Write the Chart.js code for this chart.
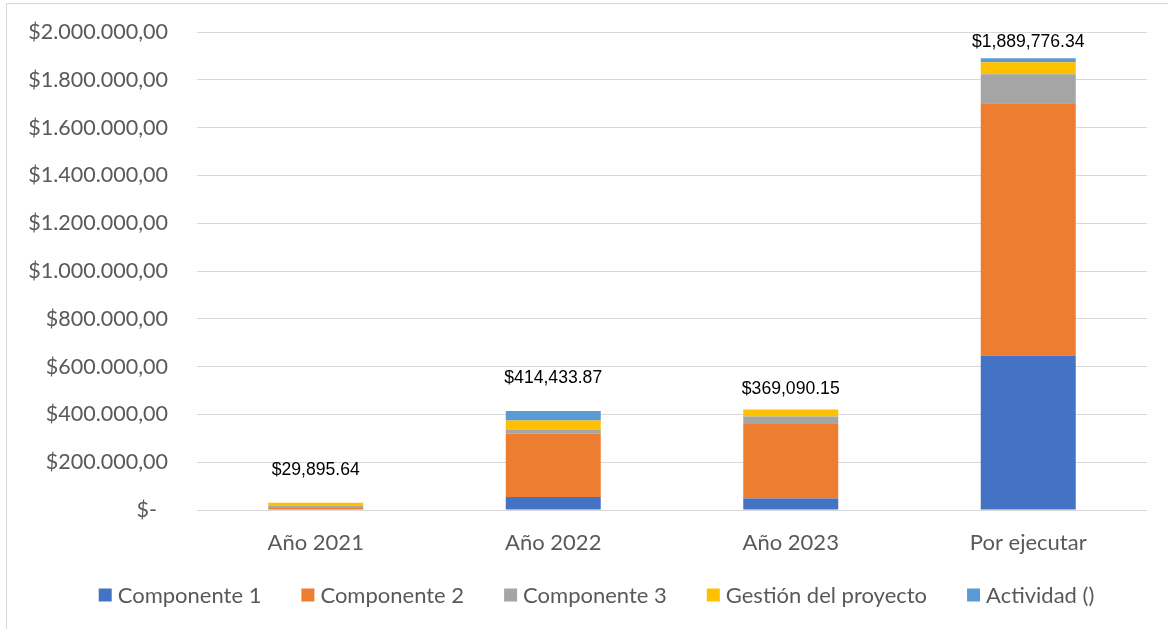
<!DOCTYPE html>
<html>
<head>
<meta charset="utf-8">
<script src="https://cdn.jsdelivr.net/npm/chart.js@4.4.0/dist/chart.umd.min.js"></script>
<style>
  body { margin: 0; background: #fff; }
  #wrap { position: relative; width: 1168px; height: 629px; overflow: hidden; }
  #frame { position: absolute; left: 6px; top: 3px; right: -10px; bottom: -10px;
    border-left: 1px solid #d9d9d9; border-top: 1px solid #d9d9d9; pointer-events: none; }
</style>
</head>
<body>
<div id="wrap">
  <canvas id="chart" width="1168" height="629"></canvas>
  <div id="frame"></div>
</div>
<script>
// periodos y montos por componente (USD)
const periodos = ["Año 2021", "Año 2022", "Año 2023", "Por ejecutar"];
const componente1 = [3000, 54000, 48000, 645000];
const componente2 = [8000, 266000, 312000, 1057000];
const componente3 = [8000, 17000, 30700, 121000];
const gestion = [10895.64, 37000, 29400, 50000];
const actividad = [0, 40433.87, -51009.85, 16776.34];

const series = [
  { label: "Componente 1", data: componente1, color: "#4472C4" },
  { label: "Componente 2", data: componente2, color: "#ED7D31" },
  { label: "Componente 3", data: componente3, color: "#A5A5A5" },
  { label: "Gestión del proyecto", data: gestion, color: "#FFC000" },
  { label: "Actividad ()", data: actividad, color: "#5B9BD5" },
];

const totales = periodos.map((p, i) =>
  series.reduce((acc, s) => acc + s.data[i], 0)
);

const FONT = "Lato, 'Open Sans', sans-serif";
const GRIS = "#595959";

function fmtEje(v) {
  if (v === 0) return "$-\u00a0\u00a0";
  const s = Math.round(v).toString().replace(/\B(?=(\d{3})+(?!\d))/g, ".");
  return "$" + s + ",00";
}

function fmtTotal(t) {
  return "$" + t.toLocaleString("en-US", { minimumFractionDigits: 2, maximumFractionDigits: 2 });
}

// etiquetas con el total encima de cada columna
const totalLabels = {
  id: "totalLabels",
  afterDatasetsDraw(chart) {
    const ctx = chart.ctx;
    const y = chart.scales.y;
    const meta = chart.getDatasetMeta(0);
    ctx.save();
    ctx.font = "17.6px 'Liberation Sans', Arial, sans-serif";
    ctx.fillStyle = "#000";
    ctx.textAlign = "center";
    ctx.textBaseline = "middle";
    totales.forEach((t, i) => {
      let py = y.getPixelForValue(t) - 33;
      py = Math.max(py, chart.chartArea.top + 10);
      ctx.fillText(fmtTotal(t), meta.data[i].x, py);
    });
    ctx.restore();
  },
};

// leyenda estilo Excel (cuadro pegado al texto, separación amplia)
const legendaExcel = {
  id: "legendaExcel",
  afterDraw(chart) {
    const ctx = chart.ctx;
    const box = 13, gapTexto = 6, gapItem = 40;
    ctx.save();
    ctx.font = "22px " + FONT;
    ctx.textBaseline = "middle";
    ctx.textAlign = "left";
    const items = chart.data.datasets.map((d) => ({
      label: d.label, color: d.backgroundColor, w: ctx.measureText(d.label).width,
    }));
    const total = items.reduce((a, it) => a + box + gapTexto + it.w, 0) + gapItem * (items.length - 1);
    let x = 596.5 - total / 2;
    const yc = 595;
    items.forEach((it) => {
      ctx.fillStyle = it.color;
      ctx.fillRect(x, yc - box / 2, box, box);
      ctx.fillStyle = GRIS;
      ctx.fillText(it.label, x + box + gapTexto, yc + 1);
      x += box + gapTexto + it.w + gapItem;
    });
    ctx.restore();
  },
};

new Chart(document.getElementById("chart"), {
  type: "bar",
  data: {
    labels: periodos,
    datasets: series.map((s) => ({
      label: s.label,
      data: s.data,
      backgroundColor: s.color,
      categoryPercentage: 1,
      barPercentage: 0.4,
    })),
  },
  options: {
    responsive: false,
    animation: false,
    layout: { padding: { top: 32, right: 21, bottom: 69, left: 0 } },
    scales: {
      x: {
        stacked: true,
        grid: { display: false },
        border: { display: false },
        ticks: { color: GRIS, font: { family: FONT, size: 22 }, padding: 12 },
        afterFit(scale) { scale.height = 50; },
      },
      y: {
        stacked: true,
        min: 0,
        max: 2000000,
        grid: { color: "#d9d9d9", drawTicks: false },
        border: { display: false },
        ticks: {
          stepSize: 200000,
          padding: 29,
          color: GRIS,
          font: { family: FONT, size: 21.5 },
          callback: (v) => fmtEje(v),
        },
        afterFit(scale) {
          scale.width = 197;
          scale.paddingTop = 10;
          scale.paddingBottom = 10;
        },
      },
    },
    plugins: {
      legend: { display: false },
      tooltip: { enabled: false },
    },
  },
  plugins: [totalLabels, legendaExcel],
});
</script>
</body>
</html>
